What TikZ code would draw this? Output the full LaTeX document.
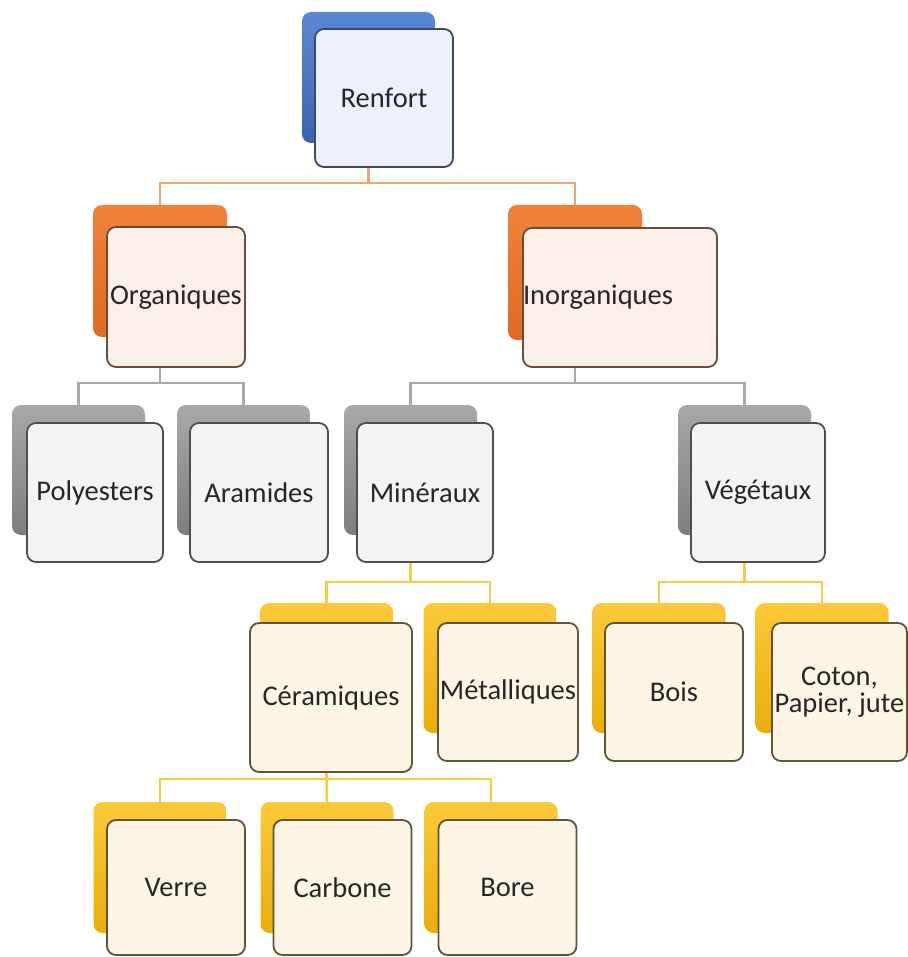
\documentclass[tikz,border=0pt]{standalone}
\usepackage{fontspec}
\setmainfont{Carlito}
\usepackage{xcolor}
\usetikzlibrary{positioning}
\definecolor{txt}{HTML}{262626}
\definecolor{bluetop}{HTML}{5B88D4}\definecolor{bluebot}{HTML}{3A64B2}
\definecolor{bluefr}{HTML}{EDF0F8}\definecolor{blueln}{HTML}{3C4A66}
\definecolor{ortop}{HTML}{F0823C}\definecolor{orbot}{HTML}{DE6B1F}
\definecolor{orfr}{HTML}{FBEFE9}\definecolor{orln}{HTML}{6A4B3C}
\definecolor{grtop}{HTML}{A8A8A8}\definecolor{grbot}{HTML}{7E7E7E}
\definecolor{grfr}{HTML}{F3F3F3}\definecolor{grln}{HTML}{4F4F4F}
\definecolor{gdtop}{HTML}{FBC939}\definecolor{gdbot}{HTML}{E9AD0C}
\definecolor{gdfr}{HTML}{FCF5E6}\definecolor{gdln}{HTML}{5F5434}
\definecolor{orlink}{HTML}{F2A66B}\definecolor{grlink}{HTML}{A9A9A9}
\definecolor{gdlink}{HTML}{F4CD45}
\tikzset{
  bk/.style={rounded corners=9pt, minimum width=133pt, minimum height=130pt, inner sep=0pt},
  bkblue/.style={bk, top color=bluetop, bottom color=bluebot},
  bkor/.style={bk, top color=ortop, bottom color=orbot},
  bkgr/.style={bk, top color=grtop, bottom color=grbot},
  bkgd/.style={bk, top color=gdtop, bottom color=gdbot},
  card/.style={rounded corners=9pt, line width=1.8pt, inner sep=0pt, minimum width=138pt,
    minimum height=139pt, align=center, text=txt, font=\fontsize{28.5}{27}\selectfont},
  cdblue/.style={card, draw=blueln, fill=bluefr},
  cdor/.style={card, draw=orln, fill=orfr},
  cdgr/.style={card, draw=grln, fill=grfr},
  cdgd/.style={card, draw=gdln, fill=gdfr},
  lk/.style={line width=2.6pt},
  lkor/.style={lk, draw=orlink},
  lkgr/.style={lk, draw=grlink},
  lkgd/.style={lk, draw=gdlink}
}
\begin{document}
\begin{tikzpicture}[x=1pt, y=-1pt]
  \useasboundingbox (0,0) rectangle (907,957);
  % top
  \node[bkblue, minimum height=131pt] (rb) at (368.5,77.5) {};
  \node[cdblue, minimum height=138pt] (r) at (384,98) {Renfort};
  % level 1
  \node[bkor, minimum width=134pt, minimum height=132pt] (ob) at (160,271) {};
  \node[cdor, minimum height=140pt] (o) at (176,297) {Organiques};
  \node[bkor, minimum width=134pt, minimum height=135pt] (ib) at (575,272.5) {};
  \node[cdor, text width=194pt, align=left] (i) at (620,297.5) {Inorganiques};
  % level 2
  \node[bkgr] (pb) at (78.5,470) {};
  \node[cdgr, minimum width=136pt] (p) at (95,492.5) {Polyesters};
  \node[bkgr] (ab) at (243.5,470) {};
  \node[cdgr] (a) at (259,492.5) {Aramides};
  \node[bkgr] (mb) at (410.5,470) {};
  \node[cdgr, minimum width=136pt] (m) at (425,492.5) {Minéraux};
  \node[bkgr] (vb) at (744.5,470) {};
  \node[cdgr, minimum width=134pt] (v) at (758,492.5) {Végétaux};
  % level 3
  \node[bkgd] (cb) at (326.5,668) {};
  \node[cdgd, minimum width=162pt, minimum height=149pt] (c) at (331,697.5) {Céramiques};
  \node[bkgd] (meb) at (490,668) {};
  \node[cdgd, minimum width=140pt, minimum height=138pt] (me) at (508,692) {Métalliques};
  \node[bkgd] (bb) at (659,668) {};
  \node[cdgd, minimum height=138pt] (b) at (674,692) {Bois};
  \node[bkgd] (cob) at (822,668) {};
  \node[cdgd, minimum width=135pt, minimum height=138pt] (co) at (839.5,692) {Coton,\\Papier, jute};
  % level 4
  \node[bkgd, minimum height=131pt] (veb) at (160,867.5) {};
  \node[cdgd, minimum height=135pt] (ve) at (176,887.5) {Verre};
  \node[bkgd, minimum height=131pt] (cab) at (327,867.5) {};
  \node[cdgd, minimum height=135pt] (ca) at (342.5,887.5) {Carbone};
  \node[bkgd, minimum height=131pt] (bob) at (491,867.5) {};
  \node[cdgd, minimum height=135pt] (bo) at (507.5,887.5) {Bore};
  % links
  \coordinate (j1) at (368.5,183);
  \coordinate (j2) at (160,383);
  \coordinate (j3) at (575,383);
  \coordinate (j4) at (410.5,582);
  \coordinate (j5) at (744.5,582);
  \coordinate (j6) at (326.5,779);
  \draw[lkor] (rb |- r.south) -- (j1);
  \draw[lkor] (ob.north) |- (j1) -| (ib.north);
  \draw[lkgr] (ob |- o.south) -- (j2);
  \draw[lkgr] (pb.north) |- (j2) -| (ab.north);
  \draw[lkgr] (ib |- i.south) -- (j3);
  \draw[lkgr] (mb.north) |- (j3) -| (vb.north);
  \draw[lkgd] (mb |- m.south) -- (j4);
  \draw[lkgd] (cb.north) |- (j4) -| (meb.north);
  \draw[lkgd] (vb |- v.south) -- (j5);
  \draw[lkgd] (bb.north) |- (j5) -| (cob.north);
  \draw[lkgd] (cb |- c.south) -- (j6);
  \draw[lkgd] (veb.north) |- (j6) -| (bob.north);
  \draw[lkgd] (cab.north) -- (j6);
\end{tikzpicture}
\end{document}
